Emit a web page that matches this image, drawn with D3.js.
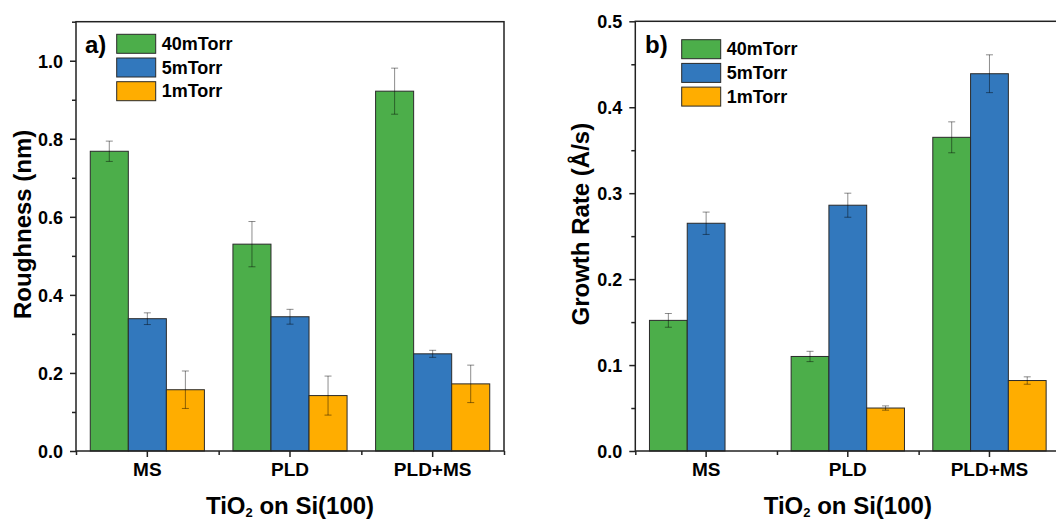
<!DOCTYPE html>
<html>
<head>
<meta charset="utf-8">
<script src="https://cdn.jsdelivr.net/npm/d3@7"></script>
<style>
  html, body { margin: 0; padding: 0; background: #fff; }
  svg { display: block; }
  text { font-family: "Liberation Sans", Arial, sans-serif; font-weight: bold; fill: #000; }
</style>
</head>
<body>
<svg id="chart" width="1056" height="520"></svg>
<script>
// ---- data ----
const categories = ["MS", "PLD", "PLD+MS"];
const seriesNames = ["40mTorr", "5mTorr", "1mTorr"];
const seriesColors = ["#4cae4a", "#3278bd", "#ffad00"];

const roughness40 = [0.768, 0.530, 0.922];
const roughness40Err = [0.026, 0.058, 0.059];
const roughness5 = [0.339, 0.344, 0.249];
const roughness5Err = [0.015, 0.019, 0.009];
const roughness1 = [0.157, 0.142, 0.172];
const roughness1Err = [0.048, 0.050, 0.048];

const growth40 = [0.152, 0.110, 0.365];
const growth40Err = [0.008, 0.006, 0.018];
const growth5 = [0.265, 0.286, 0.439];
const growth5Err = [0.013, 0.014, 0.022];
const growth1 = [null, 0.050, 0.082];
const growth1Err = [null, 0.0025, 0.0043];

const roughTicks = [0.0, 0.2, 0.4, 0.6, 0.8, 1.0];
const roughMinor = [0.1, 0.3, 0.5, 0.7, 0.9, 1.1];
const growthTicks = [0.0, 0.1, 0.2, 0.3, 0.4, 0.5];
const growthMinor = [0.05, 0.15, 0.25, 0.35, 0.45];

const svg = d3.select("#chart");

function drawPanel(cfg) {
  const g = svg.append("g");
  const x = d3.scaleBand().domain(categories).range([cfg.x0, cfg.x1]).padding(0);
  const xEdge = d3.scaleLinear().domain([0, categories.length]).range([cfg.x0, cfg.x1]);
  const y = d3.scaleLinear().domain(cfg.yDomain).range([cfg.yBottom, cfg.yTop]);
  const step = x.step();
  const xi = d3.scaleBand().domain(seriesNames).range([0.1 * step, 0.9 * step]).padding(0);

  const rows = [];
  cfg.values.forEach((vals, si) => {
    vals.forEach((v, ci) => {
      if (v == null) return;
      rows.push({ s: si, c: ci, v: v, e: cfg.errors[si][ci] });
    });
  });

  // bars
  g.selectAll("rect.bar").data(rows).enter().append("rect")
    .attr("class", "bar")
    .attr("x", d => x(categories[d.c]) + xi(seriesNames[d.s]))
    .attr("y", d => y(d.v))
    .attr("width", xi.bandwidth())
    .attr("height", d => y(0) - y(d.v))
    .attr("fill", d => seriesColors[d.s])
    .attr("stroke", "#2a2a2a")
    .attr("stroke-width", 1);

  // error bars
  const eb = g.selectAll("g.err").data(rows).enter().append("g").attr("class", "err")
    .attr("stroke", "#000").attr("stroke-opacity", 0.45).attr("stroke-width", 1);
  const cx = d => x(categories[d.c]) + xi(seriesNames[d.s]) + xi.bandwidth() / 2;
  eb.append("line").attr("x1", cx).attr("x2", cx)
    .attr("y1", d => y(d.v + d.e)).attr("y2", d => y(d.v - d.e));
  eb.append("line").attr("x1", d => cx(d) - 3.5).attr("x2", d => cx(d) + 3.5)
    .attr("y1", d => y(d.v + d.e)).attr("y2", d => y(d.v + d.e));
  eb.append("line").attr("x1", d => cx(d) - 3.5).attr("x2", d => cx(d) + 3.5)
    .attr("y1", d => y(d.v - d.e)).attr("y2", d => y(d.v - d.e));

  // frame
  g.append("rect")
    .attr("x", cfg.x0).attr("y", cfg.yTop)
    .attr("width", cfg.x1 - cfg.x0).attr("height", cfg.yBottom - cfg.yTop)
    .attr("fill", "none").attr("stroke", "#222").attr("stroke-width", 1.5);

  // y axis
  const yAxis = g.append("g").attr("transform", `translate(${cfg.x0},0)`)
    .call(d3.axisLeft(y).tickValues(cfg.yTicks).tickFormat(d3.format(".1f")).tickSize(6).tickPadding(7));
  yAxis.select(".domain").remove();
  yAxis.selectAll("line").attr("stroke", "#222").attr("stroke-width", 1.5);
  yAxis.selectAll("text").style("font-size", "18px").attr("dy", "0.36em");
  const yMinor = g.append("g").attr("transform", `translate(${cfg.x0},0)`)
    .call(d3.axisLeft(y).tickValues(cfg.yMinor).tickFormat("").tickSize(4));
  yMinor.select(".domain").remove();
  yMinor.selectAll("line").attr("stroke", "#222").attr("stroke-width", 1.5);

  // x axis
  const xAxis = g.append("g").attr("transform", `translate(0,${cfg.yBottom})`)
    .call(d3.axisBottom(x).tickSize(6).tickPadding(6));
  xAxis.select(".domain").remove();
  xAxis.selectAll("line").attr("stroke", "#222").attr("stroke-width", 1.5);
  xAxis.selectAll("text").style("font-size", "19px").attr("dy", "0.71em");
  const xMinor = g.append("g").attr("transform", `translate(0,${cfg.yBottom})`)
    .call(d3.axisBottom(xEdge).tickValues(d3.range(categories.length + 1)).tickFormat("").tickSize(4));
  xMinor.select(".domain").remove();
  xMinor.selectAll("line").attr("stroke", "#222").attr("stroke-width", 1.5);

  // axis titles
  const xt = g.append("text")
    .attr("x", (cfg.x0 + cfg.x1) / 2).attr("y", 514)
    .attr("text-anchor", "middle").style("font-size", "24px");
  xt.append("tspan").text("TiO");
  xt.append("tspan").text("2").style("font-size", "13px").attr("dy", 3);
  xt.append("tspan").text(" on Si(100)").attr("dy", -3);

  g.append("text")
    .attr("transform", `translate(${cfg.yTitleX},${(cfg.yTop + cfg.yBottom) / 2 - 12}) rotate(-90)`)
    .attr("text-anchor", "middle").style("font-size", "24px")
    .text(cfg.yTitle);

  // panel label
  g.append("text").attr("x", cfg.labelX).attr("y", cfg.labelY)
    .style("font-size", "24px").text(cfg.label);

  // legend
  const lg = g.append("g").attr("transform", `translate(${cfg.legX},${cfg.legY})`);
  const li = lg.selectAll("g").data(seriesNames).enter().append("g")
    .attr("transform", (d, i) => `translate(0,${i * 23.7})`);
  li.append("rect").attr("width", 39).attr("height", 19)
    .attr("fill", (d, i) => seriesColors[i])
    .attr("stroke", "#2a2a2a").attr("stroke-width", 1);
  li.append("text").attr("x", 45).attr("y", 15.5).style("font-size", "18px").text(d => d);
}

drawPanel({
  x0: 76, x1: 504, yTop: 21.7, yBottom: 451,
  yDomain: [0, 1.1], yTicks: roughTicks, yMinor: roughMinor,
  values: [roughness40, roughness5, roughness1],
  errors: [roughness40Err, roughness5Err, roughness1Err],
  yTitle: "Roughness (nm)", yTitleX: 31,
  label: "a)", labelX: 85, labelY: 52.5,
  legX: 116.7, legY: 34.3
});

drawPanel({
  x0: 635.3, x1: 1060.3, yTop: 21.3, yBottom: 451,
  yDomain: [0, 0.5], yTicks: growthTicks, yMinor: growthMinor,
  values: [growth40, growth5, growth1],
  errors: [growth40Err, growth5Err, growth1Err],
  yTitle: "Growth Rate (Å/s)", yTitleX: 589,
  label: "b)", labelX: 645, labelY: 53,
  legX: 681.7, legY: 39.7
});
</script>
</body>
</html>
